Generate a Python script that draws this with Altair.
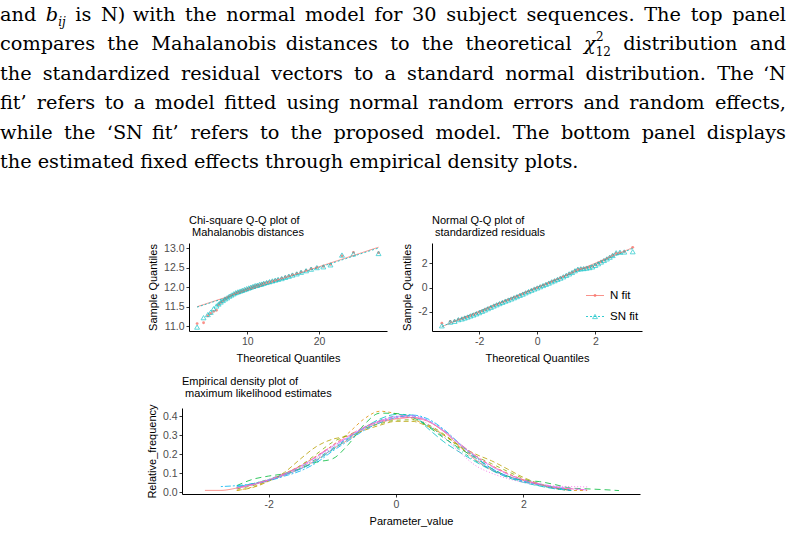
import altair as alt
import pandas as pd

SANS = "Liberation Sans"
SERIF = "DejaVu Serif"
INK = "#000000"
TICK_INK = "#4D4D4D"

# ---------------- caption paragraph ----------------
caption_rows = [
    ["and", "<bij>", "is", "N)", "with", "the", "normal", "model", "for", "30",
     "subject", "sequences.", "The", "top", "panel"],
    ["compares", "the", "Mahalanobis", "distances", "to", "the", "theoretical",
     "<chi>", "distribution", "and"],
    ["the", "standardized", "residual", "vectors", "to", "a", "standard", "normal",
     "distribution.", "The", "‘N"],
    ["fit’", "refers", "to", "a", "model", "fitted", "using", "normal", "random",
     "errors", "and", "random", "effects,"],
    ["while", "the", "‘SN", "fit’", "refers", "to", "the", "proposed", "model.",
     "The", "bottom", "panel", "displays"],
]
caption_tail = "the estimated fixed effects through empirical density plots."

BODY_SIZE = 19.3
SCRIPT_SIZE = 12
LINE_RIGHT = 786
FIRST_BASELINE = 21
LINE_STEP = 29.4

# rough advance widths (em) used to spread words over a justified line
glyph_em = {
    " ": 0.318, "a": 0.596, "b": 0.640, "c": 0.560, "d": 0.640, "e": 0.592,
    "f": 0.370, "g": 0.640, "h": 0.644, "i": 0.320, "j": 0.310, "k": 0.609,
    "l": 0.320, "m": 0.948, "n": 0.644, "o": 0.602, "p": 0.640, "q": 0.640,
    "r": 0.478, "s": 0.513, "t": 0.402, "u": 0.644, "v": 0.565, "w": 0.856,
    "x": 0.564, "y": 0.565, "z": 0.527, "N": 0.755, "T": 0.684, "M": 0.867,
    "S": 0.689, "0": 0.636, "3": 0.636, ")": 0.390, ".": 0.318, ",": 0.318,
    "‘": 0.318, "’": 0.318,
}


def word_px(word):
    if word == "<bij>":
        return 0.64 * BODY_SIZE + (0.32 + 0.31) * SCRIPT_SIZE
    if word == "<chi>":
        return 0.60 * BODY_SIZE + 2 * 0.636 * SCRIPT_SIZE
    return sum(glyph_em.get(c, 0.6) for c in word) * BODY_SIZE


plain, plain_end, italic, sub_it, sub_up, sup_up = ([] for _ in range(6))
for row, words in enumerate(caption_rows):
    base = FIRST_BASELINE + LINE_STEP * row
    widths = [word_px(w) for w in words]
    gap = (LINE_RIGHT - sum(widths)) / (len(words) - 1)
    x = 0.0
    for k, (w, wd) in enumerate(zip(words, widths)):
        if k == len(words) - 1:
            plain_end.append({"x": LINE_RIGHT, "y": base, "text": w})
        elif w == "<bij>":
            italic.append({"x": x, "y": base, "text": "b"})
            sub_it.append({"x": x + 0.64 * BODY_SIZE, "y": base + 5, "text": "ij"})
        elif w == "<chi>":
            italic.append({"x": x, "y": base, "text": "χ"})
            sup_up.append({"x": x + 0.62 * BODY_SIZE, "y": base - 9.5, "text": "2"})
            sub_up.append({"x": x + 0.60 * BODY_SIZE, "y": base + 5.5, "text": "12"})
        else:
            plain.append({"x": x, "y": base, "text": w})
        x += wd + gap
plain.append({"x": 0, "y": FIRST_BASELINE + LINE_STEP * 5, "text": caption_tail})

# panel headings (two lines each, left edge on the panel's y axis)
headings = [
    {"x": 189, "y": 224, "text": "Chi-square Q-Q plot of"},
    {"x": 192, "y": 235.5, "text": "Mahalanobis distances"},
    {"x": 432, "y": 224, "text": "Normal Q-Q plot of"},
    {"x": 435, "y": 235.5, "text": "standardized residuals"},
    {"x": 182, "y": 385, "text": "Empirical density plot of"},
    {"x": 185, "y": 396.5, "text": "maximum likelihood estimates"},
]


def text_layer(rows, font=SERIF, size=BODY_SIZE, style="normal", align="left"):
    df = pd.DataFrame(rows, columns=["x", "y", "text"])
    return alt.Chart(df).mark_text(
        font=font, fontSize=size, fontStyle=style, align=align,
        baseline="alphabetic", color=INK,
    ).encode(
        x=alt.X("x:Q", scale=None, axis=None),
        y=alt.Y("y:Q", scale=None, axis=None),
        text="text:N",
    )


# ---------------- Q-Q data ----------------
fit_names = ["N fit", "SN fit"]
fit_colors = ["#F8766D", "#00BFC4"]
fit_dashes = [[1, 0], [2, 2]]

chi_theory = [3.0, 3.9, 4.5, 4.9, 5.3, 5.7, 6.0, 6.3, 6.6, 6.9, 7.2, 7.5, 7.8, 8.1,
              8.4, 8.7, 9.0, 9.3, 9.6, 9.9, 10.2, 10.5, 10.8, 11.1, 11.4, 11.7, 12.0,
              12.3, 12.7, 13.1, 13.5, 13.9, 14.3, 14.8, 15.3, 15.8, 16.3, 16.9, 17.5,
              18.2, 18.9, 19.7, 20.6, 21.6, 23.2, 24.8, 28.3]
chi_n = [11.07, 11.09, 11.27, 11.33, 11.38, 11.41, 11.55, 11.61, 11.65, 11.69, 11.72,
         11.76, 11.79, 11.82, 11.85, 11.87, 11.89, 11.91, 11.93, 11.95, 11.97, 11.99,
         12.01, 12.03, 12.05, 12.06, 12.08, 12.10, 12.12, 12.14, 12.16, 12.18, 12.20,
         12.23, 12.26, 12.29, 12.32, 12.35, 12.39, 12.43, 12.47, 12.50, 12.53, 12.58,
         12.80, 12.89, 12.88]
chi_sn = [10.98, 11.22, 11.30, 11.36, 11.45, 11.52, 11.57, 11.62, 11.66, 11.70, 11.73,
          11.77, 11.80, 11.83, 11.86, 11.88, 11.90, 11.92, 11.94, 11.96, 11.98, 12.00,
          12.02, 12.04, 12.05, 12.07, 12.08, 12.10, 12.12, 12.14, 12.16, 12.18, 12.20,
          12.22, 12.25, 12.28, 12.31, 12.34, 12.38, 12.42, 12.46, 12.50, 12.52, 12.57,
          12.82, 12.85, 12.86]
chi_line_x = [3.0, 28.3]
chi_line_n = [11.50, 13.02]
chi_line_sn = [11.49, 13.00]

norm_theory = [-3.29, -3.0, -2.85, -2.72, -2.6, -2.5, -2.4, -2.3, -2.2, -2.1, -2.0,
               -1.9, -1.8, -1.7, -1.6, -1.5, -1.4, -1.3, -1.2, -1.1, -1.0, -0.9, -0.8,
               -0.7, -0.6, -0.5, -0.4, -0.3, -0.2, -0.1, 0.0, 0.1, 0.2, 0.3, 0.4, 0.5,
               0.6, 0.7, 0.8, 0.9, 1.0, 1.1, 1.2, 1.3, 1.4, 1.5, 1.6, 1.7, 1.8, 1.9,
               2.0, 2.1, 2.2, 2.3, 2.4, 2.5, 2.6, 2.72, 2.85, 3.0, 3.29]
norm_n = [-2.93, -2.78, -2.74, -2.62, -2.56, -2.48, -2.40, -2.31, -2.23, -2.14, -2.04,
          -1.94, -1.83, -1.72, -1.61, -1.50, -1.40, -1.30, -1.20, -1.10, -1.01, -0.92,
          -0.82, -0.73, -0.62, -0.52, -0.41, -0.31, -0.20, -0.10, -0.01, 0.09, 0.19,
          0.29, 0.39, 0.50, 0.59, 0.70, 0.80, 0.91, 1.03, 1.15, 1.27, 1.41, 1.53, 1.57,
          1.60, 1.64, 1.69, 1.76, 1.88, 2.01, 2.14, 2.27, 2.40, 2.54, 2.70, 2.85, 2.90,
          2.98, 3.33]
norm_sn = [-3.15, -2.85, -2.78, -2.64, -2.58, -2.50, -2.42, -2.33, -2.25, -2.16, -2.06,
           -1.95, -1.84, -1.73, -1.62, -1.51, -1.41, -1.31, -1.21, -1.11, -1.02, -0.93,
           -0.83, -0.74, -0.63, -0.53, -0.42, -0.32, -0.21, -0.11, -0.02, 0.08, 0.18,
           0.28, 0.38, 0.49, 0.58, 0.69, 0.79, 0.90, 1.02, 1.14, 1.26, 1.40, 1.53, 1.56,
           1.58, 1.62, 1.66, 1.72, 1.84, 1.98, 2.12, 2.25, 2.38, 2.52, 2.66, 2.88, 2.93,
           2.95, 2.97]
norm_line_x = [-3.29, 3.29]
norm_line_n = [-3.22, 3.30]
norm_line_sn = [-3.20, 3.24]

# ---------------- density data ----------------
dens_grid = [-3.0, -2.75, -2.5, -2.25, -2.0, -1.75, -1.5, -1.25, -1.0, -0.75, -0.5,
             -0.25, 0.0, 0.25, 0.5, 0.75, 1.0, 1.25, 1.5, 1.75, 2.0, 2.25, 2.5, 2.75,
             3.0, 3.25, 3.5]
dens_b1 = [0.010, 0.010, 0.022, 0.040, 0.062, 0.090, 0.125, 0.170, 0.225, 0.275, 0.330,
           0.365, 0.385, 0.392, 0.372, 0.318, 0.240, 0.170, 0.118, 0.085, 0.062, 0.042,
           0.025, 0.012, None, None, None]
dens_b2 = [None, None, 0.010, 0.028, 0.060, 0.098, 0.140, 0.190, 0.245, 0.310, 0.385,
           0.425, 0.412, 0.385, 0.350, 0.300, 0.235, 0.185, 0.140, 0.100, 0.065, 0.040,
           0.020, 0.010, 0.009, None, None]
dens_b3 = [None, None, 0.010, 0.025, 0.058, 0.105, 0.175, 0.240, 0.278, 0.295, 0.325,
           0.352, 0.372, 0.372, 0.345, 0.300, 0.245, 0.200, 0.165, 0.122, 0.078, 0.045,
           0.022, 0.010, None, None, None]
dens_b4 = [None, None, 0.018, 0.035, 0.062, 0.095, 0.140, 0.200, 0.262, 0.300, 0.335,
           0.360, 0.378, 0.380, 0.355, 0.305, 0.240, 0.190, 0.150, 0.110, 0.072, 0.042,
           0.022, 0.012, None, None, None]
dens_b5 = [None, None, 0.035, 0.068, 0.085, 0.098, 0.125, 0.158, 0.175, 0.250, 0.355,
           0.415, 0.413, 0.395, 0.345, 0.285, 0.230, 0.180, 0.125, 0.085, 0.062, 0.056,
           0.040, 0.022, 0.018, 0.014, 0.009]
dens_b6 = [None, None, 0.025, 0.045, 0.068, 0.098, 0.132, 0.175, 0.230, 0.285, 0.340,
           0.378, 0.398, 0.392, 0.350, 0.290, 0.222, 0.165, 0.118, 0.080, 0.055, 0.035,
           0.020, 0.010, None, None, None]
dens_b7 = [None, None, 0.028, 0.045, 0.065, 0.092, 0.122, 0.165, 0.222, 0.280, 0.338,
           0.385, 0.408, 0.405, 0.335, 0.265, 0.210, 0.160, 0.115, 0.078, 0.052, 0.033,
           0.018, 0.010, None, None, None]
dens_b8 = [None, 0.030, 0.035, 0.045, 0.060, 0.085, 0.112, 0.155, 0.215, 0.270, 0.325,
           0.365, 0.392, 0.405, 0.385, 0.330, 0.255, 0.185, 0.125, 0.085, 0.058, 0.040,
           0.025, 0.012, None, None, None]
dens_b9 = [None, None, 0.028, 0.042, 0.063, 0.090, 0.122, 0.168, 0.228, 0.285, 0.335,
           0.372, 0.395, 0.400, 0.378, 0.325, 0.250, 0.175, 0.120, 0.082, 0.058, 0.038,
           0.020, 0.010, None, None, None]
dens_b10 = [None, None, 0.022, 0.040, 0.065, 0.095, 0.135, 0.185, 0.240, 0.288, 0.338,
            0.375, 0.398, 0.402, 0.375, 0.320, 0.250, 0.188, 0.135, 0.095, 0.065, 0.045,
            0.030, 0.020, 0.012, None, None]
dens_b11 = [None, None, 0.020, 0.038, 0.062, 0.092, 0.130, 0.180, 0.238, 0.290, 0.340,
            0.375, 0.395, 0.395, 0.358, 0.290, 0.210, 0.140, 0.100, 0.072, 0.052, 0.040,
            0.032, 0.030, 0.028, None, None]
dens_b12 = [None, None, 0.024, 0.042, 0.066, 0.098, 0.138, 0.188, 0.245, 0.295, 0.343,
            0.372, 0.388, 0.392, 0.372, 0.322, 0.255, 0.192, 0.140, 0.098, 0.066, 0.042,
            0.025, 0.018, 0.012, None, None]
dens_params = ["b1", "b2", "b3", "b4", "b5", "b6", "b7", "b8", "b9", "b10", "b11", "b12"]
dens_colors = ["#F8766D", "#DE8C00", "#B79F00", "#7CAE00", "#00BA38", "#00C08B",
               "#00BFC4", "#00B4F0", "#619CFF", "#C77CFF", "#F564E3", "#FF64B0"]
dens_dashes = [[1, 0], [3, 3], [5, 3], [4, 4], [6, 4], [1, 3, 4, 3], [7, 3],
               [2, 2, 6, 2], [1, 2, 2, 2, 3, 2, 4, 2], [12, 2, 6, 2], [1, 2],
               [2, 2, 4, 2, 8, 2, 12, 2]]
dens_curves = [dens_b1, dens_b2, dens_b3, dens_b4, dens_b5, dens_b6, dens_b7, dens_b8,
               dens_b9, dens_b10, dens_b11, dens_b12]

# ---------------- page geometry (pixels) ----------------
PAGE_W, PAGE_H = 788, 534
CHI_X, CHI_Y = [189, 387], [331, 243]
NORM_X, NORM_Y = [432, 642], [331, 243]
DENS_X, DENS_Y = [182, 640], [494, 408]
KEY_X0, KEY_X1, KEY_LABEL_X = 586, 604, 610
KEY_ROWS_Y = [295.5, 316.5]


# ---------------- helpers ----------------
def axis(title, values, orient, offset, fmt=None, expr=None, title_pad=6):
    opts = dict(
        title=title, values=values, orient=orient, offset=offset, grid=False,
        domainColor="#000000", domainWidth=1, tickColor="#333333", tickSize=3,
        tickWidth=1, labelFont=SANS, labelFontSize=10.5, labelColor=TICK_INK,
        labelPadding=2, labelFlush=False, labelOverlap=False, titleFont=SANS,
        titleFontSize=11, titleColor=INK, titleFontWeight="normal",
        titlePadding=title_pad,
    )
    if fmt:
        opts["format"] = fmt
    if expr:
        opts["labelExpr"] = expr
    return alt.Axis(**opts)


MINUS_EXPR = "datum.value < 0 ? '-' + format(-datum.value, 'd') : format(datum.value, 'd')"


def x_axis(title, values, px_y, **kw):
    return axis(title, values, "bottom", px_y - PAGE_H, **kw)


def y_axis(title, values, px_x, **kw):
    return axis(title, values, "left", -px_x, title_pad=5, **kw)


fit_color = alt.Color("fit:N", scale=alt.Scale(domain=fit_names, range=fit_colors), legend=None)
fit_dash = alt.StrokeDash("fit:N", scale=alt.Scale(domain=fit_names, range=fit_dashes), legend=None)


def qq_frames(theory, sample_n, sample_sn, line_x, line_n, line_sn):
    pts = pd.DataFrame({
        "fit": ["N fit"] * len(theory) + ["SN fit"] * len(theory),
        "x": list(theory) * 2,
        "y": list(sample_n) + list(sample_sn),
    })
    ref = pd.DataFrame({
        "fit": ["N fit"] * 2 + ["SN fit"] * 2,
        "x": list(line_x) * 2,
        "y": list(line_n) + list(line_sn),
    })
    return pts, ref


def fit_points(chart, fit, **enc):
    # N fit: small filled dots, SN fit: open triangles
    filtered = chart.transform_filter(alt.datum.fit == fit)
    if fit == "N fit":
        mark = filtered.mark_point(shape="circle", filled=True, size=8, opacity=0.8)
    else:
        mark = filtered.mark_point(shape="triangle-up", filled=False, size=24, strokeWidth=0.9)
    return mark.encode(color=fit_color, **enc)


def qq_panel(pts, ref, xdom, ydom, xrange, yrange, xaxis, yaxis):
    X = alt.X("x:Q", scale=alt.Scale(domain=xdom, range=xrange, nice=False, zero=False), axis=xaxis)
    Y = alt.Y("y:Q", scale=alt.Scale(domain=ydom, range=yrange, nice=False, zero=False), axis=yaxis)
    n_pts = fit_points(alt.Chart(pts), "N fit", x=X, y=Y)
    sn_pts = fit_points(alt.Chart(pts), "SN fit", x=X, y=Y)
    lines = alt.Chart(ref).mark_line(strokeWidth=0.8).encode(
        x=X, y=Y, color=fit_color, strokeDash=fit_dash, detail="fit:N")
    return alt.layer(n_pts, sn_pts, lines)


# ---------------- panels ----------------
chi_pts, chi_ref = qq_frames(chi_theory, chi_n, chi_sn, chi_line_x, chi_line_n, chi_line_sn)
chi_panel = qq_panel(
    chi_pts, chi_ref, [1.87, 29.48], [10.88, 13.128], CHI_X, CHI_Y,
    x_axis("Theoretical Quantiles", [10, 20], CHI_Y[0], fmt="d"),
    y_axis("Sample Quantiles", [11.0, 11.5, 12.0, 12.5, 13.0], CHI_X[0], fmt=".1f"),
)

norm_pts, norm_ref = qq_frames(norm_theory, norm_n, norm_sn, norm_line_x, norm_line_n, norm_line_sn)
norm_panel = qq_panel(
    norm_pts, norm_ref, [-3.63, 3.61], [-3.58, 3.69], NORM_X, NORM_Y,
    x_axis("Theoretical Quantiles", [-2, 0, 2], NORM_Y[0], expr=MINUS_EXPR),
    y_axis("Sample Quantiles", [-2, 0, 2], NORM_X[0], expr=MINUS_EXPR),
)

# key for the two fits, drawn inside the normal Q-Q panel
key_df = pd.DataFrame({
    "fit": fit_names,
    "x0": [KEY_X0] * 2,
    "x1": [KEY_X1] * 2,
    "xm": [(KEY_X0 + KEY_X1) / 2] * 2,
    "xl": [KEY_LABEL_X] * 2,
    "y": KEY_ROWS_Y,
})
key_base = alt.Chart(key_df)
key_lines = key_base.mark_rule(strokeWidth=0.8).encode(
    x=alt.X("x0:Q", scale=None, axis=None), x2="x1:Q",
    y=alt.Y("y:Q", scale=None, axis=None), color=fit_color, strokeDash=fit_dash)
key_n = fit_points(key_base, "N fit", x=alt.X("xm:Q", scale=None, axis=None),
                   y=alt.Y("y:Q", scale=None, axis=None))
key_sn = fit_points(key_base, "SN fit", x=alt.X("xm:Q", scale=None, axis=None),
                    y=alt.Y("y:Q", scale=None, axis=None))
key_text = key_base.mark_text(font=SANS, fontSize=11.5, align="left", baseline="middle",
                              color=INK).encode(
    x=alt.X("xl:Q", scale=None, axis=None), y=alt.Y("y:Q", scale=None, axis=None),
    text="fit:N")
fit_key = alt.layer(key_lines, key_n, key_sn, key_text)

dens_rows = []
for name, curve in zip(dens_params, dens_curves):
    for gx, gy in zip(dens_grid, curve):
        if gy is not None:
            dens_rows.append({"param": name, "x": gx, "y": gy})
dens_df = pd.DataFrame(dens_rows)

dens_panel = alt.Chart(dens_df).mark_line(strokeWidth=0.8, interpolate="monotone").encode(
    x=alt.X("x:Q", scale=alt.Scale(domain=[-3.36, 3.83], range=DENS_X, nice=False, zero=False),
            axis=x_axis("Parameter_value", [-2, 0, 2], DENS_Y[0], expr=MINUS_EXPR)),
    y=alt.Y("y:Q", scale=alt.Scale(domain=[-0.009, 0.442], range=DENS_Y, nice=False, zero=False),
            axis=y_axis("Relative_frequency", [0, 0.1, 0.2, 0.3, 0.4], DENS_X[0], fmt=".1f")),
    color=alt.Color("param:N", scale=alt.Scale(domain=dens_params, range=dens_colors), legend=None),
    strokeDash=alt.StrokeDash("param:N", scale=alt.Scale(domain=dens_params, range=dens_dashes), legend=None),
)

chart = alt.layer(
    text_layer(plain),
    text_layer(plain_end, align="right"),
    text_layer(italic, style="italic"),
    text_layer(sub_it, size=SCRIPT_SIZE, style="italic"),
    text_layer(sub_up, size=SCRIPT_SIZE),
    text_layer(sup_up, size=SCRIPT_SIZE),
    text_layer(headings, font=SANS, size=11),
    chi_panel,
    norm_panel,
    fit_key,
    dens_panel,
).resolve_scale(
    x="independent", y="independent", color="independent", strokeDash="independent",
).properties(
    width=PAGE_W, height=PAGE_H, padding=0, autosize=alt.AutoSizeParams(type="none"),
).configure_view(stroke=None)

chart.save("out.html", embed_options={"renderer": "svg", "actions": False})
